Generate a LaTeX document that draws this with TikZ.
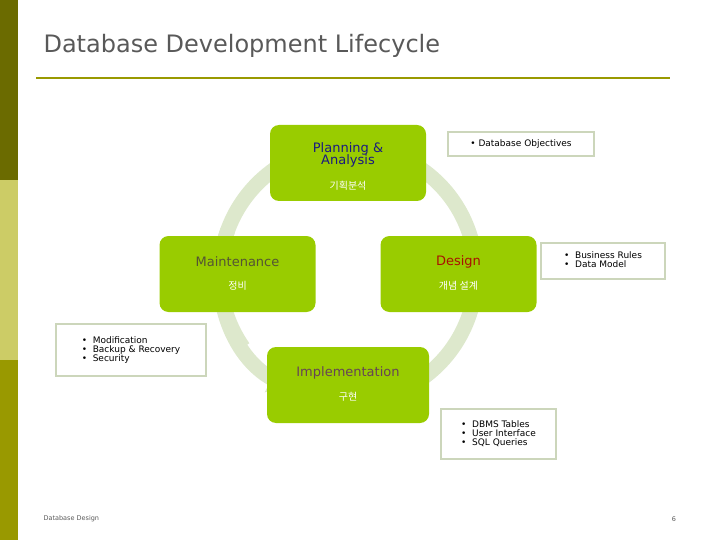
\documentclass[tikz,border=0pt]{standalone}
\usepackage{fontspec}
\setmainfont{DejaVu Sans}
\newfontfamily\kofont{Noto Sans CJK KR}
\usetikzlibrary{arrows.meta}
\definecolor{stagegreen}{HTML}{99CC00}
\definecolor{ringgreen}{HTML}{DDE8CC}
\definecolor{notegray}{HTML}{CCD6BB}
\definecolor{titlegray}{HTML}{595959}
\definecolor{ruleolive}{HTML}{999900}
\definecolor{bardark}{HTML}{6B6B00}
\definecolor{barlight}{HTML}{CCCC66}
\definecolor{planblue}{HTML}{1A1A80}
\definecolor{maintolive}{HTML}{555533}
\definecolor{designred}{HTML}{AA1100}
\definecolor{implplum}{HTML}{664455}
\tikzstyle{stage}=[fill=stagegreen, rounded corners=9pt, minimum width=156pt, minimum height=76pt, inner sep=0pt]
\tikzstyle{stagename}=[font=\fontsize{13}{14}\selectfont, align=center]
\tikzstyle{korean}=[text=white, font=\kofont\fontsize{10}{12}\selectfont]
\tikzstyle{note}=[draw=notegray, line width=2pt, fill=white, anchor=north west, font=\fontsize{9}{11}\selectfont, align=left, inner sep=0pt]
\newcommand{\noteitems}[1]{\begin{tabular}{@{\hspace{6pt}}l@{\hspace{6pt}}}#1\end{tabular}}
\begin{document}
\begin{tikzpicture}[x=1pt,y=-1pt]
\useasboundingbox (0,0) rectangle (720,540);
% side bars and title
\fill[bardark] (0,0) rectangle (18,180);
\fill[barlight] (0,180) rectangle (18,360);
\fill[ruleolive] (0,360) rectangle (18,540);
\node[anchor=west, text=titlegray, font=\fontsize{24}{28}\selectfont] (title) at (40,46) {Database Development Lifecycle};
\draw[ruleolive, line width=2.5pt] (36,78) -- (670,78);
% cycle ring
\draw[ringgreen, line width=15pt, -{Triangle[length=18pt,width=30pt]}] (348,274) ++(200:128) arc[start angle=200, end angle=118, radius=128];
\draw[ringgreen, line width=15pt] (348,274) ++(70:128) arc[start angle=70, end angle=-215, radius=128];
% stages
\node[stage] (plan) at (348,163) {};
\node[stagename, text=planblue, anchor=south] (planT) at (348,171) {Planning \&\\[-2pt]Analysis};
\node[korean] (planK) at (348,186) {기획분석};
\node[stage] (maint) at (237.5,274) {};
\node[stagename, text=maintolive] (maintT) at (237.5,262) {Maintenance};
\node[korean] (maintK) at (237.5,286) {정비};
\node[stage] (design) at (458.5,274) {};
\node[stagename, text=designred] (designT) at (458.5,262) {Design};
\node[korean] (designK) at (458.5,286) {개념 설계};
\node[stage, minimum width=162pt] (impl) at (348,385) {};
\node[stagename, text=implplum] (implT) at (348,373) {Implementation};
\node[korean] (implK) at (348,397) {구현};
% notes
\node[note, minimum width=146pt, minimum height=24pt] (objectives) at (447,131) {\noteitems{• Database Objectives}};
\node[note, minimum width=124pt, minimum height=36pt] (rules) at (540,242) {\noteitems{•\ \ Business Rules\\[-2pt] •\ \ Data Model}};
\node[note, minimum width=150pt, minimum height=52pt] (maintnote) at (55,323) {\noteitems{•\ \ Modification\\[-2pt] •\ \ Backup \& Recovery\\[-2pt] •\ \ Security}};
\node[note, minimum width=115pt, minimum height=50pt] (implnote) at (440,408) {\noteitems{•\ \ DBMS Tables\\[-2pt] •\ \ User Interface\\[-2pt] •\ \ SQL Queries}};
% footer
\node[anchor=west, font=\fontsize{6.5}{8}\selectfont, text=titlegray] (footer) at (40,519) {Database Design};
\node[font=\fontsize{6.5}{8}\selectfont, text=titlegray] (page) at (674,519) {6};
\end{tikzpicture}
\end{document}
